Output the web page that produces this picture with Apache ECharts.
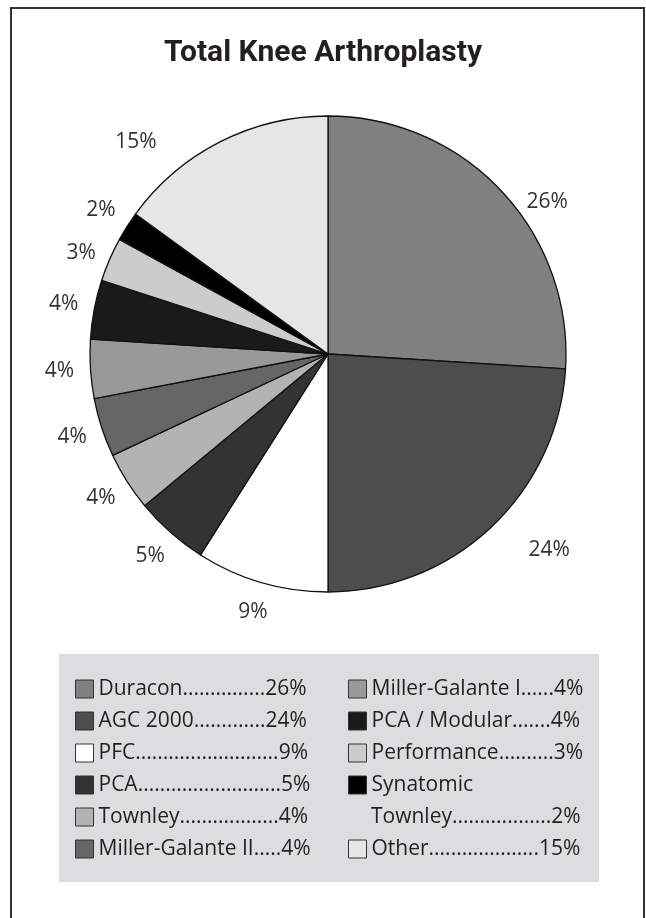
<!DOCTYPE html>
<html><head><meta charset="utf-8">
<script src="https://cdn.jsdelivr.net/npm/echarts@6/dist/echarts.min.js"></script>
<style>html,body{margin:0;padding:0;background:#fff}#c{width:646px;height:918px}</style>
</head><body><div id="c"></div>
<script>
// ---- data ----
const title = 'Total Knee Arthroplasty';
const categories = ['Duracon','AGC 2000','PFC','PCA','Townley','Miller-Galante II','Miller-Galante I','PCA / Modular','Performance','Synatomic Townley','Other'];
const values = [26,24,9,5,4,4,4,4,3,2,15];
const leftLegend = ['Duracon','AGC 2000','PFC','PCA','Townley','Miller-Galante II'];
const rightLegend = ['Miller-Galante I','PCA / Modular','Performance','Synatomic Townley'];
const lastLegend = ['Other'];
// ---- styles ----
const colors = ['#808080','#4d4d4d','#ffffff','#333333','#b3b3b3','#666666','#999999','#1a1a1a','#cccccc','#000000','#e6e6e6'];
const FONT = '"Open Sans", "Noto Sans", sans-serif';
const LSIZE = 21;
// label nudges (px) for a few labels that sit off the ring in the original
const labelNudge = { 'Duracon': [23, 32], 'AGC 2000': [37, 0], 'Other': [-70, 28], 'Performance': [0, 6] };

const ctx = document.createElement('canvas').getContext('2d');
function leader(name, val, target) {
  ctx.font = LSIZE + 'px ' + FONT;
  const tail = val + '%';
  let n = 0;
  while (ctx.measureText(name + '.'.repeat(n + 1) + tail).width <= target) n++;
  return name + '.'.repeat(n) + tail;
}
function fmt(name) {
  if (name === 'Synatomic Townley') return 'Synatomic';
  return leader(name, values[categories.indexOf(name)], 213);
}

const cx = 328, cy = 354, R = 238;
const pieData = categories.map((n, i) => ({ name: n, value: values[i], itemStyle: { color: colors[i] } }));
const labelData = categories.map((n, i) => {
  const d = { name: n, value: values[i] };
  if (labelNudge[n]) d.label = { offset: labelNudge[n] };
  return d;
});

const legendCommon = {
  orient: 'vertical', padding: 0, itemGap: 0, itemWidth: 18, itemHeight: 18,
  icon: 'rect', selectedMode: false, formatter: fmt,
  itemStyle: { borderColor: '#333', borderWidth: 1 },
  textStyle: { fontFamily: FONT, fontSize: LSIZE, color: '#231f20', lineHeight: 32 }
};

const chart = echarts.init(document.getElementById('c'), null, { renderer: 'canvas' });
chart.setOption({
  backgroundColor: '#ffffff',
  animation: false,
  title: {
    text: title, left: 'center', top: 33,
    textStyle: { fontFamily: '"Liberation Sans Narrow", "Roboto", sans-serif', fontWeight: 'bold', fontSize: 30, color: '#231f20' }
  },
  graphic: [
    { type: 'rect', z: -10, shape: { x: 11, y: 8, width: 633, height: 1000 }, style: { fill: '#fff', stroke: '#333', lineWidth: 2 } },
    { type: 'rect', z: -5, shape: { x: 59, y: 654, width: 540, height: 228 }, style: { fill: '#dcdddf' } },
    { type: 'text', z: 10, x: 371, y: 817, style: { text: leader('Townley', values[categories.indexOf('Synatomic Townley')], 213), font: LSIZE + 'px ' + FONT, fill: '#231f20', verticalAlign: 'middle' } }
  ],
  legend: [
    Object.assign({ data: leftLegend, left: 75, top: 673 }, legendCommon),
    Object.assign({ data: rightLegend, left: 348, top: 673 }, legendCommon),
    Object.assign({ data: lastLegend, left: 348, top: 833 }, legendCommon)
  ],
  series: [
    {
      type: 'pie', center: [cx, cy], radius: R, startAngle: 90, clockwise: true,
      data: pieData, label: { show: false }, labelLine: { show: false },
      itemStyle: { borderColor: '#111', borderWidth: 1.3 },
      emphasis: { disabled: true }, silent: true
    },
    {
      type: 'pie', center: [cx, cy], radius: [256, 276], startAngle: 90, clockwise: true,
      data: labelData, itemStyle: { color: 'rgba(0,0,0,0)' },
      label: { show: true, position: 'inside', formatter: '{c}%', fontFamily: FONT, fontSize: 21, color: '#333' },
      labelLine: { show: false }, emphasis: { disabled: true }, silent: true
    }
  ]
});
</script></body></html>
